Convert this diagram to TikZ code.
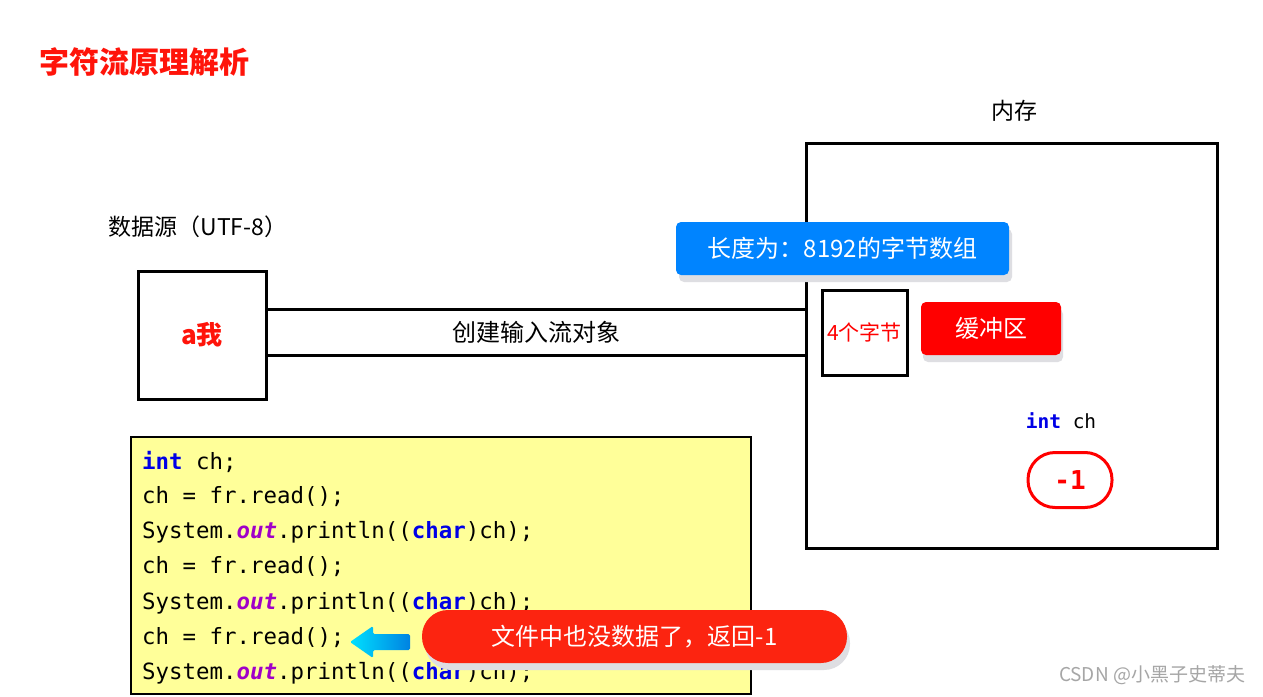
\documentclass[tikz,border=0pt]{standalone}
\usepackage{fontspec}
\setmainfont{Noto Sans CJK SC}
\newfontfamily\codefont{DejaVu Sans Mono}
\newcommand\fsz[1]{\fontsize{#1}{#1}\selectfont}
\definecolor{tred}{RGB}{255,20,10}
\definecolor{bluebox}{RGB}{0,132,255}
\definecolor{redbox}{RGB}{255,0,0}
\definecolor{pillred}{RGB}{252,36,16}
\definecolor{codebg}{RGB}{255,255,153}
\definecolor{kwblue}{RGB}{0,0,230}
\definecolor{kwpurple}{RGB}{160,0,200}
\definecolor{shadowgray}{RGB}{222,222,226}
\tikzset{
  thickbox/.style={draw=black, line width=3pt, fill=white, inner sep=0pt},
  conn/.style={draw=black, line width=3pt},
  label/.style={inner sep=0pt, text=black},
  codeline/.style={inner sep=0pt, anchor=west, font=\codefont\fsz{22.4}, text=black},
  callout/.style={inner sep=0pt, text=white, font=\fsz{24}},
  shadowbox/.style={fill=shadowgray, draw=none}
}
\newcommand\kw[1]{\textcolor{kwblue}{\textbf{#1}}}
\newcommand\fld[1]{\textcolor{kwpurple}{\textbf{\textit{#1}}}}
\begin{document}
\begin{tikzpicture}[x=1pt,y=-1pt]
\useasboundingbox (0,0) rectangle (1263,696);
\fill[white] (0,0) rectangle (1263,696);

% title
\node[inner sep=0pt, text=tred, font=\fsz{30}\bfseries] (title) at (144,62) {字符流原理解析};

% memory
\node[label, font=\fsz{23}] (memlabel) at (1014,111) {内存};
\node[thickbox, minimum width=411, minimum height=405] (mem) at (1011.5,345.5) {};

% data source
\node[label, font=\fsz{23}] (srclabel) at (198,227) {数据源（UTF-8）};
\node[thickbox, minimum width=128, minimum height=128, text=tred, font=\fsz{26}\bfseries] (src) at (202,335) {a我};

% connectors
\coordinate (ya) at (0,309);
\coordinate (yb) at (0,355);
\draw[conn] (src.east |- ya) -- (mem.west |- ya);
\draw[conn] (src.east |- yb) -- (mem.west |- yb);
\node[label, font=\fsz{24}] (create) at (536,332) {创建输入流对象};

% blue callout
\fill[shadowgray, rounded corners=5] (679,229) rectangle (1012,282);
\node[fill=bluebox, rounded corners=5, minimum width=333, minimum height=53, callout] (arr) at (842.5,248.5) {长度为：8192的字节数组};

% 4 bytes box
\node[thickbox, minimum width=85, minimum height=85, text=red, font=\fsz{21}] (four) at (864.5,332.5) {4个字节};

% buffer
\fill[shadowgray, rounded corners=5] (923,309) rectangle (1063,362);
\node[fill=redbox, rounded corners=5, minimum width=140, minimum height=53, callout] (buf) at (991,328.5) {缓冲区};

% int ch
\node[inner sep=0pt, font=\codefont\fsz{19.5}, text=black] (intch) at (1061,421) {\kw{int} ch};
\node[draw=red, line width=3pt, rounded corners=27, minimum width=84, minimum height=55, inner sep=0pt, text=red, font=\codefont\fsz{26}\bfseries] (val) at (1070,480) {-1};

% code box
\node[draw=black, line width=1.5pt, fill=codebg, minimum width=620, minimum height=257, inner sep=0pt] (code) at (441,565.5) {};
\node[codeline] (c1) at (142,462) {\kw{int} ch;};
\node[codeline] (c2) at (142,497) {ch = fr.read();};
\node[codeline] (c3) at (142,532) {System.\fld{out}.println((\kw{char})ch);};
\node[codeline] (c4) at (142,567) {ch = fr.read();};
\node[codeline] (c5) at (142,603) {System.\fld{out}.println((\kw{char})ch);};
\node[codeline] (c6) at (142,638) {ch = fr.read();};
\node[codeline] (c7) at (142,673) {System.\fld{out}.println((\kw{char})ch);};

% arrow
\shade[left color={rgb,255:red,0;green,225;blue,255}, right color={rgb,255:red,0;green,130;blue,225}, rounded corners=1.5]
  (350,642) -- (373,626) -- (373,634) -- (410,634) -- (410,650) -- (373,650) -- (373,658) -- cycle;

% pill
\fill[shadowgray, rounded corners=26] (425,617) rectangle (850,670);
\node[fill=pillred, rounded corners=26, minimum width=425, minimum height=53, callout] (pill) at (634.5,636.5) {文件中也没数据了，返回-1};

% watermark
\node[inner sep=0pt, text=gray!70, font=\fsz{19}] (wm) at (1152,675) {CSDN @小黑子史蒂夫};
\end{tikzpicture}
\end{document}
